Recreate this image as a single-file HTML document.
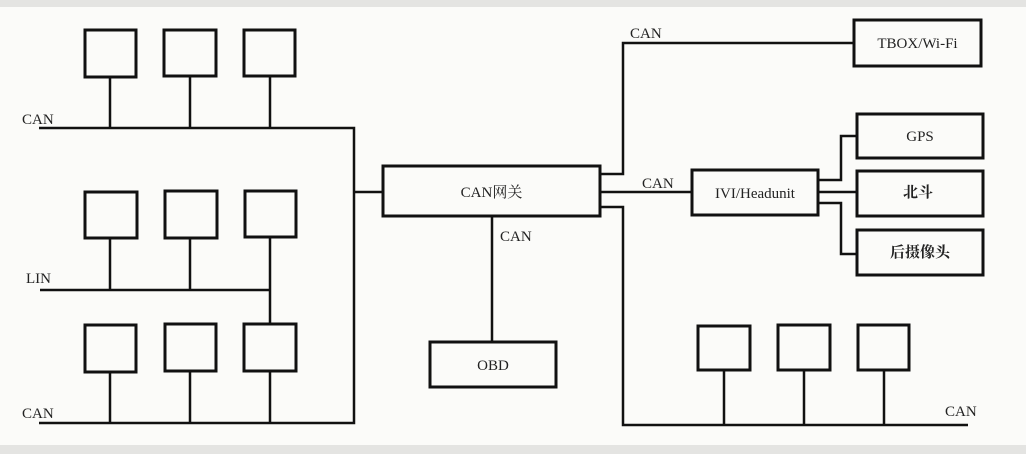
<!DOCTYPE html>
<html><head><meta charset="utf-8"><style>
html,body{margin:0;padding:0;background:#fbfbf9;}
svg{display:block}
text{font-family:"Liberation Serif","Noto Serif CJK SC",serif;fill:#222;}
</style></head><body>
<svg width="1026" height="454" viewBox="0 0 1026 454" xmlns="http://www.w3.org/2000/svg">
<rect x="0" y="0" width="1026" height="454" fill="#fbfbf9"/>
<rect x="0" y="0" width="1026" height="7" fill="#e4e4e2"/>
<rect x="0" y="445" width="1026" height="9" fill="#e4e4e2"/>
<g fill="none" stroke="#111" stroke-width="3">
<!-- left boxes -->
<rect x="85" y="30" width="51" height="47"/>
<rect x="164" y="30" width="52" height="46"/>
<rect x="244" y="30" width="51" height="46"/>
<rect x="85" y="192" width="52" height="46"/>
<rect x="165" y="191" width="52" height="47"/>
<rect x="245" y="191" width="51" height="46"/>
<rect x="85" y="325" width="51" height="47"/>
<rect x="165" y="324" width="51" height="47"/>
<rect x="244" y="324" width="52" height="47"/>
<!-- gateway / obd -->
<rect x="383" y="166" width="217" height="50"/>
<rect x="430" y="342" width="126" height="45"/>
<!-- right boxes -->
<rect x="854" y="20" width="127" height="46"/>
<rect x="692" y="170" width="126" height="45"/>
<rect x="857" y="114" width="126" height="44"/>
<rect x="857" y="171" width="126" height="45"/>
<rect x="857" y="230" width="126" height="45"/>
<rect x="698" y="326" width="52" height="44"/>
<rect x="778" y="325" width="52" height="45"/>
<rect x="858" y="325" width="51" height="45"/>
</g>
<g fill="none" stroke="#111" stroke-width="2.5">
<path d="M39 128H354V423H39"/>
<path d="M110 77V128M190 76V128M270 76V128"/>
<path d="M354 192H383"/>
<path d="M40 290H270M110 238V290M190 238V290M270 237V324"/>
<path d="M110 372V423M190 371V423M270 371V423"/>
<path d="M492 216V342"/>
<path d="M600 174H623V43H854"/>
<path d="M600 192H692"/>
<path d="M600 207H623V425H968"/>
<path d="M724 370V425M804 370V425M884 370V425"/>
<path d="M818 180H841V136H857"/>
<path d="M818 192H857"/>
<path d="M818 203H841V254H857"/>
</g>
<g font-size="15">
<text x="22" y="124">CAN</text>
<text x="26" y="283">LIN</text>
<text x="22" y="418">CAN</text>
<text x="630" y="38">CAN</text>
<text x="642" y="188">CAN</text>
<text x="500" y="241">CAN</text>
<text x="945" y="416">CAN</text>
<text x="491.5" y="197" text-anchor="middle">CAN网关</text>
<text x="493" y="370" text-anchor="middle">OBD</text>
<text x="917.5" y="48" text-anchor="middle">TBOX/Wi-Fi</text>
<text x="755" y="198" text-anchor="middle">IVI/Headunit</text>
<text x="920" y="141" text-anchor="middle">GPS</text>
<text x="918" y="197" text-anchor="middle" font-weight="bold">北斗</text>
<text x="920" y="257" text-anchor="middle" font-weight="bold">后摄像头</text>
</g>
</svg>
</body></html>
